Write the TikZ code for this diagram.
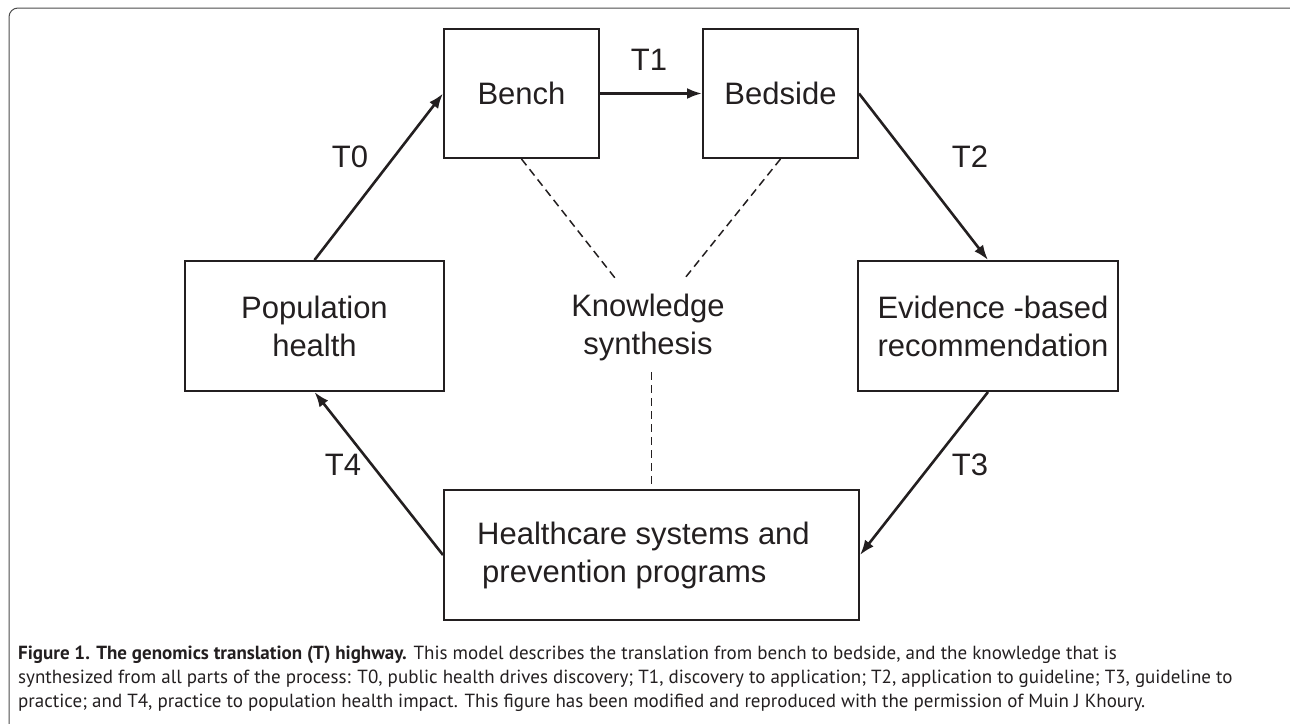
\documentclass[tikz,border=0pt]{standalone}
\usepackage{fontspec}
\usepackage{xcolor}
\usepackage{tikz}
\usetikzlibrary{arrows.meta}
\setmainfont{Liberation Sans}
\newfontfamily\capfont{PT Sans}
\definecolor{ink}{RGB}{35,31,32}

\begin{document}
\begin{tikzpicture}[x=1pt,y=-1pt,
    stage/.style={draw=ink, line width=2pt, text=ink, inner sep=0pt, font=\fontsize{31}{38}\selectfont},
    hop/.style={draw=ink, line width=2.6pt, -{Latex[length=15pt,width=11pt]}},
    link/.style={draw=ink, line width=1.5pt, dash pattern=on 8pt off 5pt},
    tlabel/.style={text=ink, font=\fontsize{31}{38}\selectfont},
    capline/.style={anchor=base west, inner sep=0pt, text=ink, font=\capfont\fontsize{19}{22}\selectfont}]
	\useasboundingbox (0,0) rectangle (1290,723);
	\draw[black!70, line width=1pt, rounded corners=9pt] (9,8) rectangle (1302,742);
	\node[stage, minimum width=155pt, minimum height=129pt] at (521.5,93.5) (bench){Bench};
	\node[stage, minimum width=155pt, minimum height=129pt] at (780.5,93.5) (bedside){Bedside};
	\node[stage, minimum width=259pt, minimum height=130pt, align=center] at (314.5,326) (pop){Population\\health};
	\node[stage, minimum width=260pt, minimum height=130pt, align=left] at (988,326) (evid){\hspace*{10pt}Evidence -based\\\hspace*{10pt}recommendation};
	\node[stage, minimum width=415pt, minimum height=130pt, align=left] at (651.5,555) (care){Healthcare systems and\hspace*{16pt}\\\hspace*{5pt}prevention programs};
	\node[tlabel, align=center] at (648,327) (know){Knowledge\\synthesis};
	\coordinate (kl) at (615,278);
	\coordinate (kr) at (685,278);
	\coordinate (kb) at (651.5,372);
	\node[tlabel] at (350,157) (t0){T0};
	\node[tlabel] at (649,60) (t1){T1};
	\node[tlabel] at (970,157) (t2){T2};
	\node[tlabel] at (970,465) (t3){T3};
	\node[tlabel] at (343,465) (t4){T4};
	\draw[hop] (pop.north) -- (bench.west);
	\draw[hop] (bench.east) -- (bedside.west);
	\draw[hop] (bedside.east) -- (evid.north);
	\draw[hop] (evid.south) -- (care.east);
	\draw[hop] (care.west) -- (pop.south);
	\draw[link] (bench.south) -- (kl);
	\draw[link] (bedside.south) -- (kr);
	\draw[link] (kb) -- (care.north);
	\node[capline] at (18,659) (cap1){\textbf{Figure 1. The genomics translation (T) highway.} This model describes the translation from bench to bedside, and the knowledge that is};
	\node[capline] at (18,683) (cap2){synthesized from all parts of the process: T0, public health drives discovery; T1, discovery to application; T2, application to guideline; T3, guideline to};
	\node[capline] at (18,707) (cap3){practice; and T4, practice to population health impact. This figure has been modified and reproduced with the permission of Muin J Khoury.};
\end{tikzpicture}
\end{document}
